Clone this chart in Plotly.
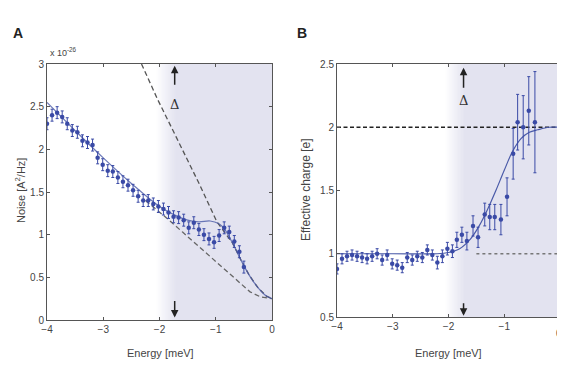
import plotly.graph_objects as go

# ---------------- data ----------------
EA = [-4.00,-3.91,-3.82,-3.73,-3.64,-3.55,-3.46,-3.37,-3.28,-3.19,-3.10,-3.01,-2.92,-2.83,-2.74,-2.65,-2.56,-2.47,-2.38,-2.29,
      -2.20,-2.11,-2.02,-1.93,-1.84,-1.75,-1.66,-1.57,-1.48,-1.39,-1.30,-1.21,-1.12,-1.03,-0.94,-0.85,-0.76,-0.67,-0.58,-0.50]
noise = [2.30,2.40,2.43,2.38,2.30,2.22,2.20,2.10,2.08,2.05,1.90,1.82,1.75,1.74,1.67,1.62,1.58,1.52,1.45,1.40,
         1.40,1.36,1.33,1.30,1.26,1.21,1.20,1.17,1.08,1.14,1.06,1.00,0.95,0.91,0.99,1.08,1.03,0.92,0.80,0.62]
noise_err = [0.07]*40

fitA_E = [-4.0,-3.5,-3.0,-2.5,-2.0,-1.7,-1.5,-1.3,-1.1,-0.95,-0.85,-0.7,-0.55,-0.4,-0.25,-0.1,0.0]
fitA_N = [2.55,2.22,1.90,1.60,1.33,1.22,1.17,1.15,1.16,1.13,1.07,0.90,0.70,0.52,0.38,0.28,0.25]

up2e_E = [-2.32,-2.03,-1.70,-1.41,-1.29,-0.98,-0.88,-0.7,-0.55,-0.4,-0.25,-0.1,0.0]
up2e_N = [3.00,2.58,2.14,1.76,1.59,1.15,1.06,0.90,0.70,0.52,0.38,0.28,0.25]

low1e_E = [-2.25,-1.90,-1.59,-1.30,-0.98,-0.70,-0.39,-0.20,0.0]
low1e_N = [1.40,1.21,1.03,0.86,0.68,0.51,0.33,0.27,0.25]

EB = [-4.00,-3.91,-3.82,-3.73,-3.64,-3.55,-3.46,-3.37,-3.28,-3.19,-3.10,-3.01,-2.92,-2.83,-2.74,-2.65,-2.56,-2.47,-2.38,-2.29,
      -2.20,-2.11,-2.02,-1.93,-1.85,-1.76,-1.67,-1.56,-1.47,-1.35,-1.26,-1.17,-1.06,-0.95,-0.84,-0.76,-0.66,-0.56,-0.45]
charge = [0.88,0.96,0.98,0.99,0.98,0.97,0.96,0.98,1.00,0.95,0.99,0.92,0.91,0.89,0.97,0.95,0.98,0.97,1.03,0.99,
          0.93,0.98,1.04,1.02,1.11,1.15,1.10,1.22,1.13,1.31,1.29,1.29,1.27,1.45,1.79,2.04,2.00,2.13,2.04]
charge_err = [0.04]*20 + [0.05,0.05,0.05,0.05,0.06,0.06,0.07,0.08,0.08,0.09,0.10,0.10,0.12,0.15,0.20,0.22,0.25,0.27,0.40]

fitB_E = [-4.0,-3.0,-2.2,-2.0,-1.8,-1.6,-1.45,-1.3,-1.15,-1.0,-0.85,-0.7,-0.55,-0.4,-0.2,0.0]
fitB_C = [1.0,1.0,1.0,1.01,1.04,1.12,1.22,1.35,1.50,1.66,1.81,1.91,1.96,1.98,2.0,2.0]

ticksA_x = [-4,-3,-2,-1,0]
ticksB_x = [-4,-3,-2,-1]      # the "0" of panel B sits at the page edge; drawn as text below
ticksA_y = [0,0.5,1,1.5,2,2.5,3]
ticksB_y = [0.5,1,1.5,2,2.5]

delta_E = -1.73

# ---------------- styling ----------------
OX, OY = 8, 8            # page body offset
W, H = 565 - OX, 368 - OY
blue = "#3a4aa6"
fitcol = "#4a5aa8"
font = "Liberation Sans Narrow, Liberation Sans, Arial"
txt = "#444444"
shade_rgb = (227, 227, 240)

def px(x):
    return (x - OX) / W

def py(y):
    return 1 - (y - OY) / H

fig = go.Figure()

# panel A
fig.add_trace(go.Scatter(x=up2e_E, y=up2e_N, mode="lines", line=dict(color="#555", width=1.3, dash="5px,3px"),
                         xaxis="x", yaxis="y", showlegend=False, hoverinfo="skip"))
fig.add_trace(go.Scatter(x=low1e_E, y=low1e_N, mode="lines", line=dict(color="#666", width=1.3, dash="5px,3px"),
                         xaxis="x", yaxis="y", showlegend=False, hoverinfo="skip"))
fig.add_trace(go.Scatter(x=fitA_E, y=fitA_N, mode="lines", line=dict(color=fitcol, width=1.2, shape="spline"),
                         xaxis="x", yaxis="y", showlegend=False, opacity=0.8))
fig.add_trace(go.Scatter(x=EA, y=noise, mode="markers",
                         marker=dict(color=blue, size=4.5),
                         error_y=dict(type="data", array=noise_err, color=blue, thickness=1, width=1.5),
                         xaxis="x", yaxis="y", showlegend=False))

# panel B
fig.add_trace(go.Scatter(x=[-4, 0], y=[2, 2], mode="lines", line=dict(color="#222", width=1.3, dash="4px,2.5px"),
                         xaxis="x2", yaxis="y2", showlegend=False, hoverinfo="skip"))
fig.add_trace(go.Scatter(x=[-1.5, 0], y=[1, 1], mode="lines", line=dict(color="#777", width=1.5, dash="3px,3px"),
                         xaxis="x2", yaxis="y2", showlegend=False, hoverinfo="skip"))
fig.add_trace(go.Scatter(x=fitB_E, y=fitB_C, mode="lines", line=dict(color=fitcol, width=1.2, shape="spline"),
                         xaxis="x2", yaxis="y2", showlegend=False))
fig.add_trace(go.Scatter(x=EB, y=charge, mode="markers",
                         marker=dict(color=blue, size=4.5),
                         error_y=dict(type="data", array=charge_err, color=blue, thickness=1, width=1.5),
                         xaxis="x2", yaxis="y2", showlegend=False))

# shaded gap region with soft left edge (solid stacked rects -> no seams)
shapes = []
for xr, yr in (("x", "y domain"), ("x2", "y2 domain")):
    n = 14
    x0, x1 = -2.08, -1.72
    for i in range(n + 1):
        t = i / n
        a = x0 + (x1 - x0) * t
        c = tuple(round(255 + (s - 255) * t) for s in shade_rgb)
        shapes.append(dict(type="rect", xref=xr, yref=yr, x0=a, x1=0, y0=0, y1=1,
                           fillcolor="rgb(%d,%d,%d)" % c, line=dict(width=0), layer="below"))
fig.update_layout(shapes=shapes)

axis_common = dict(showgrid=False, zeroline=False, showline=True, linecolor="#555", linewidth=1,
                   mirror="ticks", ticks="inside", ticklen=3, tickcolor="#555", automargin=False,
                   tickfont=dict(family=font, size=10, color=txt))

fig.update_layout(
    width=W, height=H,
    margin=dict(l=0, r=0, t=0, b=0, pad=0),
    paper_bgcolor="white", plot_bgcolor="white",
    xaxis=dict(domain=[px(47), px(272)], range=[-4, 0], tickvals=ticksA_x, anchor="y", **axis_common),
    yaxis=dict(domain=[py(320), py(64)], range=[0, 3], tickvals=ticksA_y, anchor="x", **axis_common),
    xaxis2=dict(domain=[px(337), px(560)], range=[-4, 0], tickvals=ticksB_x, anchor="y2", **axis_common),
    yaxis2=dict(domain=[py(317), py(64)], range=[0.5, 2.5], tickvals=ticksB_y, anchor="x2", **axis_common),
)

def pa(text, x, y, size, angle=0, fam=font, color=txt, xanchor="center"):
    return dict(text=text, x=px(x), y=py(y), xref="paper", yref="paper", showarrow=False,
                xanchor=xanchor, yanchor="middle", textangle=angle,
                font=dict(family=fam, size=size, color=color))

ann = [
    pa("<b>A</b>", 18, 33, 14, fam="Liberation Sans Narrow, Liberation Sans", color="#222"),
    pa("<b>B</b>", 302, 33, 14, fam="Liberation Sans Narrow, Liberation Sans", color="#222"),
    pa("x 10<sup>-26</sup>", 48, 52, 9, xanchor="left"),
    pa("Noise [A<sup>2</sup>/Hz]", 20, 191, 11, angle=-90),
    pa("Effective charge [e]", 306, 190, 12, angle=-90),
    pa("Energy [meV]", 160, 353, 11),
    pa("Energy [meV]", 448, 353, 11),
    pa("0", 559, 333, 10),
]
# delta arrows
for xr, yr, ytop, ytail, ybot, ybtail, yd in (("x", "y", 2.98, 2.74, 0.03, 0.24, 2.52),
                                               ("x2", "y2", 2.47, 2.30, 0.51, 0.62, 2.21)):
    ann.append(dict(x=delta_E, y=ytop, ax=delta_E, ay=ytail, xref=xr, yref=yr, axref=xr, ayref=yr,
                    text="", showarrow=True, arrowhead=2, arrowsize=1, arrowwidth=1.5, arrowcolor="#222"))
    ann.append(dict(x=delta_E, y=ybot, ax=delta_E, ay=ybtail, xref=xr, yref=yr, axref=xr, ayref=yr,
                    text="", showarrow=True, arrowhead=2, arrowsize=1, arrowwidth=1.5, arrowcolor="#222"))
    ann.append(dict(x=delta_E, y=yd, xref=xr, yref=yr, text="Δ", showarrow=False,
                    font=dict(family="DejaVu Serif, serif", size=13, color="#333")))
fig.update_layout(annotations=ann)

fig.write_html("out.html")
